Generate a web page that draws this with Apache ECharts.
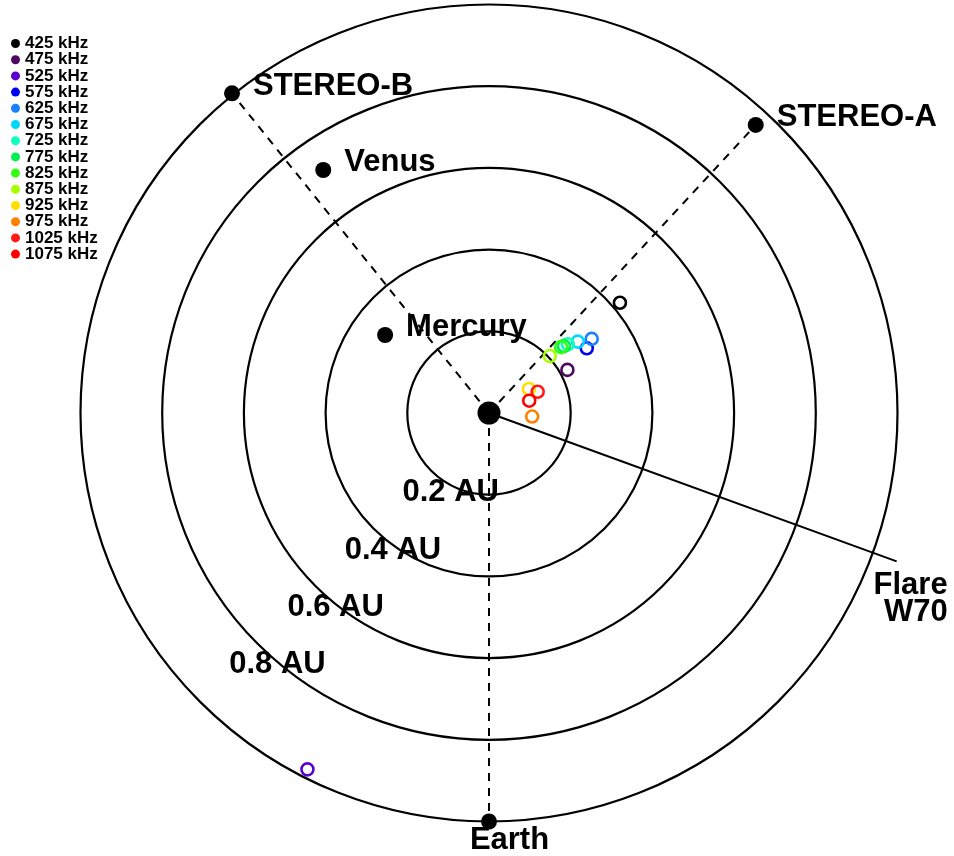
<!DOCTYPE html>
<html>
<head>
<meta charset="utf-8">
<script src="https://cdn.jsdelivr.net/npm/echarts@6/dist/echarts.min.js"></script>
<style>
  html, body { margin: 0; padding: 0; background: #fff; }
  #chart { width: 954px; height: 856px; }
</style>
</head>
<body>
<div id="chart"></div>
<script>
// Radio source positions by observing frequency (heliocentric distance in AU,
// longitude in degrees measured westward from the Sun-Earth line).
const freqLabels = ['425 kHz', '475 kHz', '525 kHz', '575 kHz', '625 kHz', '675 kHz', '725 kHz',
                    '775 kHz', '825 kHz', '875 kHz', '925 kHz', '975 kHz', '1025 kHz', '1075 kHz'];
const sourceDistAU = [0.419, 0.219, 0.979, 0.287, 0.310, 0.279, 0.256,
                      0.246, 0.239, 0.204, 0.114, 0.106, 0.130, 0.103];
const sourceLongDeg = [130.1, 118.8, 333.0, 123.5, 125.8, 128.8, 131.1,
                       131.8, 132.4, 133.1, 121.0, 85.3, 113.6, 107.0];

// Sun, planets and spacecraft
const bodyNames = ['Sun', 'Mercury', 'Venus', 'Earth', 'STEREO-A', 'STEREO-B'];
const bodyDistAU = [0, 0.318, 0.72, 1.0, 0.961, 1.004];
const bodyLongDeg = [0, 233.1, 214.3, 0, 137.2, 218.8];
const spacecraftWithLines = ['Earth', 'STEREO-A', 'STEREO-B'];

// Flare site direction
const flareLongDeg = 70;
const flareLineAU = 1.062;
const flareText = 'Flare\nW70';

// Distance rings
const ringValuesAU = [0.2, 0.4, 0.6, 0.8, 1.0];
const ringLabels = ['0.2 AU', '0.4 AU', '0.6 AU', '0.8 AU'];

// ---- styling / layout ----
const FONT = '"Liberation Sans", Arial, sans-serif';
const AU_PX = 408.5;          // pixels per AU
const OUTER_AU = 1.1;         // radial extent of the coordinate system
const freqColors = ['#000000', '#4b0a5e', '#5a00cc', '#0000f0', '#1a80ff', '#00d8ff', '#10ffc0',
                    '#00f050', '#30ff10', '#a8ff00', '#ffe000', '#ff8000', '#ff1a1a', '#ff0000'];
const ringLabelAngles = [333.6, 324.45, 321.27, 319.65];
const ringLabelOffsets = [[-2, 6], [-1, 5], [0, 3], [0, 2]];
const bodyLabelStyle = {
  'Sun': { show: false },
  'Mercury': { show: true, position: 'right', distance: 13, offset: [0, -8] },
  'Venus': { show: true, position: 'right', distance: 13, offset: [0, -8] },
  'STEREO-A': { show: true, position: 'right', distance: 13, offset: [0, -8] },
  'STEREO-B': { show: true, position: 'right', distance: 13, offset: [0, -7] },
  'Earth': { show: true, position: 'inside', offset: [20.5, 19] }
};

const chart = echarts.init(document.getElementById('chart'), null, { renderer: 'canvas' });

const series = [];

// Sun-to-spacecraft dashed lines
spacecraftWithLines.forEach(function (name) {
  const i = bodyNames.indexOf(name);
  series.push({
    type: 'line',
    coordinateSystem: 'polar',
    data: [[0, bodyLongDeg[i]], [bodyDistAU[i], bodyLongDeg[i]]],
    showSymbol: false,
    clip: false,
    silent: true,
    z: 2,
    lineStyle: { color: '#000', width: 2, type: [8, 7], opacity: 1 }
  });
});

// Flare direction line
series.push({
  type: 'line',
  coordinateSystem: 'polar',
  data: [[0, flareLongDeg], [flareLineAU, flareLongDeg]],
  showSymbol: false,
  clip: false,
  silent: true,
  z: 2,
  lineStyle: { color: '#000', width: 2, type: 'solid', opacity: 1 }
});

// Bodies
series.push({
  type: 'scatter',
  coordinateSystem: 'polar',
  clip: false,
  silent: true,
  z: 3,
  symbol: 'circle',
  data: bodyNames.map(function (name, i) {
    return {
      name: name,
      value: [bodyDistAU[i], bodyLongDeg[i]],
      symbolSize: name === 'Sun' ? 23 : 16,
      label: Object.assign({
        formatter: '{b}',
        color: '#000',
        fontSize: 31,
        fontWeight: 'bold',
        fontFamily: FONT
      }, bodyLabelStyle[name])
    };
  }),
  itemStyle: { color: '#000', opacity: 1 }
});

// Radio source positions
freqLabels.forEach(function (name, i) {
  series.push({
    type: 'scatter',
    name: name,
    coordinateSystem: 'polar',
    clip: false,
    silent: true,
    z: 4,
    symbol: 'circle',
    symbolSize: 12,
    data: [[sourceDistAU[i], sourceLongDeg[i]]],
    itemStyle: { color: 'rgba(255,255,255,0)', borderColor: freqColors[i], borderWidth: 2.6, opacity: 1 }
  });
});

// Text annotations: ring distances and flare label
series.push({
  type: 'scatter',
  coordinateSystem: 'polar',
  clip: false,
  silent: true,
  z: 5,
  symbolSize: 1,
  itemStyle: { color: 'rgba(0,0,0,0)', opacity: 1 },
  label: {
    show: true,
    position: 'inside',
    formatter: '{b}',
    color: '#000',
    fontSize: 31,
    fontWeight: 'bold',
    fontFamily: FONT
  },
  data: ringLabels.map(function (txt, i) {
    return {
      name: txt,
      value: [ringValuesAU[i], ringLabelAngles[i]],
      label: { offset: ringLabelOffsets[i] }
    };
  }).concat([{
    name: flareText,
    value: [flareLineAU, flareLongDeg],
    label: { align: 'right', offset: [51, 38], lineHeight: 27 }
  }])
});

// Ring circles are the radius axis split lines; the last tick (outer extent) is left blank
const ringColors = [0].concat(ringValuesAU).map(function () { return '#000'; }).concat(['rgba(0,0,0,0)']);

chart.setOption({
  animation: false,
  backgroundColor: '#fff',
  legend: {
    orient: 'vertical',
    left: 6,
    top: 30,
    itemWidth: 9,
    itemHeight: 9,
    itemGap: -0.8,
    selectedMode: false,
    icon: 'circle',
    textStyle: {
      color: '#000',
      fontSize: 17,
      fontWeight: 'bold',
      fontFamily: FONT,
      lineHeight: 16.2
    },
    data: freqLabels.map(function (name, i) {
      return { name: name, icon: 'circle', itemStyle: { color: freqColors[i], borderWidth: 0, opacity: 1 } };
    })
  },
  polar: { center: [489, 413], radius: AU_PX * OUTER_AU },
  angleAxis: {
    type: 'value',
    min: 0,
    max: 360,
    startAngle: 270,
    clockwise: false,
    axisLine: { show: false },
    axisTick: { show: false },
    axisLabel: { show: false },
    splitLine: { show: false }
  },
  radiusAxis: {
    type: 'value',
    min: 0,
    max: OUTER_AU,
    interval: 0.2,
    axisLine: { show: false },
    axisTick: { show: false },
    axisLabel: { show: false },
    splitLine: { show: true, lineStyle: { color: ringColors, width: 2.2 } }
  },
  series: series
});
</script>
</body>
</html>
